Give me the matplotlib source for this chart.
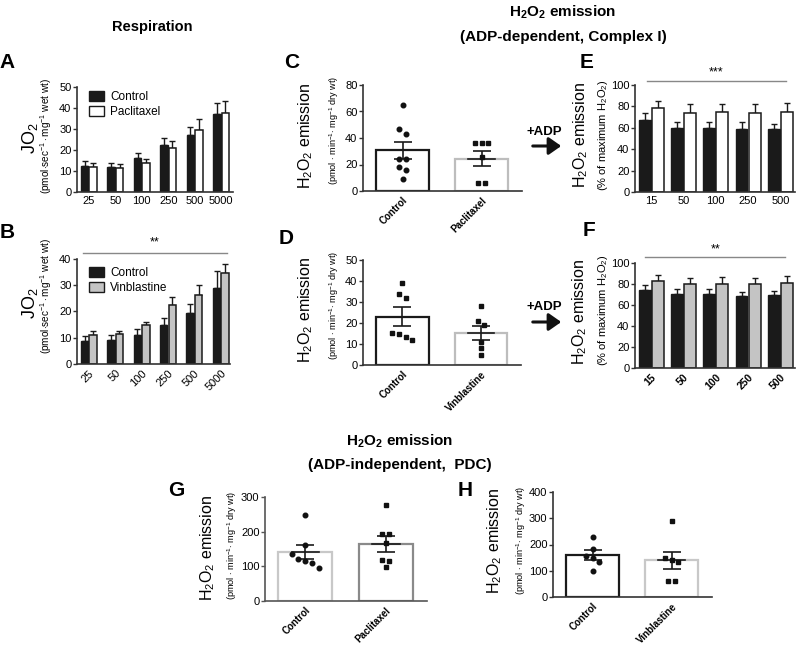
import numpy as np
import matplotlib
matplotlib.use("Agg")
import matplotlib.pyplot as plt
from matplotlib.patches import Patch

plt.rcParams['font.family'] = ['Liberation Sans', 'DejaVu Sans']
plt.rcParams['mathtext.fontset'] = 'custom'
plt.rcParams['mathtext.rm'] = 'Liberation Sans'
plt.rcParams['mathtext.it'] = 'Liberation Sans:italic'
plt.rcParams['mathtext.bf'] = 'Liberation Sans:bold'
HEAD = ['Liberation Sans Narrow', 'Liberation Sans', 'DejaVu Sans']

# ---- data ----
resp_conc = ['25', '50', '100', '250', '500', '5000']
a_ctrl = [12.5, 12.1, 16.3, 22.6, 27.1, 37.1]
a_ctrl_sem = [2.4, 1.5, 2.4, 3.0, 4.0, 5.5]
a_pac = [12.1, 11.5, 13.7, 20.8, 29.5, 37.4]
a_pac_sem = [1.6, 1.7, 2.2, 3.5, 5.5, 5.8]

b_ctrl = [8.8, 9.1, 11.0, 15.0, 19.4, 29.0]
b_ctrl_sem = [1.9, 1.8, 2.2, 2.5, 3.6, 6.3]
b_vin = [11.2, 11.4, 14.9, 22.6, 26.4, 34.5]
b_vin_sem = [1.2, 1.0, 1.0, 2.9, 3.6, 3.6]

adp_conc = ['15', '50', '100', '250', '500']
e_ctrl = [67.2, 60.0, 60.0, 58.8, 58.8]
e_ctrl_sem = [6.2, 5.0, 5.6, 6.2, 5.2]
e_pac = [78.8, 74.0, 74.7, 74.0, 74.7]
e_pac_sem = [6.5, 8.5, 7.8, 8.5, 8.4]

f_ctrl = [74.6, 70.8, 70.8, 68.6, 69.5]
f_ctrl_sem = [4.8, 4.8, 4.8, 3.8, 4.2]
f_vin = [82.5, 79.7, 80.0, 79.7, 81.0]
f_vin_sem = [6.4, 6.0, 6.3, 5.7, 6.3]

c_groups = ['Control', 'Paclitaxel']
c_ctrl_pts = [65, 47, 43, 24, 24, 18, 16, 9]
c_pac_pts = [36, 36, 36, 26, 6, 6]
c_sem = [6.5, 5.7]

d_groups = ['Control', 'Vinblastine']
d_ctrl_pts = [39, 34, 32, 15.4, 15, 13.5, 12]
d_vin_pts = [28, 21, 19, 11, 8, 5]
d_sem = [4.4, 3.4]

g_groups = ['Control', 'Paclitaxel']
g_ctrl_pts = [249, 161, 135, 120, 116, 110, 95]
g_pac_pts = [276, 193, 193, 166, 118, 115, 97]
g_sem = [20, 23]

h_groups = ['Control', 'Vinblastine']
h_ctrl_pts = [229, 184, 155, 150, 135, 100]
h_vin_pts = [289, 149, 142, 133, 61, 61]
h_sem = [19, 34]

W, H = 796, 649
fig = plt.figure(figsize=(W / 100, H / 100), dpi=100)


def box(x0, y0, x1, y1):
    return [x0 / W, 1 - y1 / H, (x1 - x0) / W, (y1 - y0) / H]


def ftext(x, y, s, **kw):
    fig.text(x / W, 1 - y / H, s, **kw)


def style(ax, ymax, step, color='#333333'):
    for sp in ['top', 'right']:
        ax.spines[sp].set_visible(False)
    for sp in ['left', 'bottom']:
        ax.spines[sp].set_color(color)
        ax.spines[sp].set_linewidth(1.2)
    ax.set_ylim(0, ymax)
    ax.set_yticks(np.arange(0, ymax + 0.1, step))
    ax.tick_params(axis='y', length=3, width=1, color=color, labelsize=8, pad=1)
    ax.tick_params(axis='x', length=0, labelsize=8, pad=3)


def grouped(ax, ctrl, ctrl_sem, trt, trt_sem, trt_color, w):
    x = np.arange(len(ctrl))
    off = w / 2 + 0.02
    ax.bar(x - off, ctrl, w, color='#1a1a1a', edgecolor='#1a1a1a', lw=1, zorder=2)
    ax.bar(x + off, trt, w, color=trt_color, edgecolor='#1a1a1a', lw=1.1, zorder=2)
    ax.errorbar(x - off, ctrl, yerr=[np.zeros(len(ctrl)), ctrl_sem], fmt='none',
                ecolor='#1a1a1a', elinewidth=1, capsize=2, capthick=1, zorder=1)
    ax.errorbar(x + off, trt, yerr=[np.zeros(len(trt)), trt_sem], fmt='none',
                ecolor='#1a1a1a', elinewidth=1, capsize=2, capthick=1, zorder=1)
    return x


def swarm(vals, px_per_unit, d_px=5.5, step=0.085):
    # cluster close values and spread them side by side
    order = np.argsort(vals)[::-1]
    v = np.asarray(vals, float)[order]
    offs = np.zeros(len(v))
    groups, cur = [], [0]
    for i in range(1, len(v)):
        if (v[cur[-1]] - v[i]) * px_per_unit < d_px:
            cur.append(i)
        else:
            groups.append(cur)
            cur = [i]
    groups.append(cur)
    for g in groups:
        k = len(g)
        for j, idx in enumerate(g):
            offs[idx] = (j - (k - 1) / 2) * step
    out = np.zeros(len(v))
    out[order] = offs
    return out


def dotbar(ax, pts_list, sems, edges, markers, ymax, hpx, labels):
    ppu = hpx / ymax
    for i, pts in enumerate(pts_list):
        m = np.mean(pts)
        ax.bar(i, m, 0.67, color='white', edgecolor=edges[i], lw=1.6, zorder=1)
        ax.errorbar(i, m, yerr=sems[i], fmt='none', ecolor='#1a1a1a',
                    elinewidth=1.2, capsize=6.5, capthick=1.2, zorder=3)
        ax.plot([i - 0.17, i + 0.17], [m, m], color='#1a1a1a', lw=1.2, zorder=3)
        xo = swarm(pts, ppu)
        ax.plot(i + xo, pts, ls='none', marker=markers[i],
                ms=3.3 if markers[i] == 'o' else 3.0,
                color='#111111', zorder=4)
    ax.set_xlim(-0.5, 1.51)
    ax.set_xticks([0, 1])
    ax.set_xticklabels(labels, rotation=45, ha='right', rotation_mode='anchor',
                       fontsize=7, fontweight='bold')


# ---- A ----
axA = fig.add_axes(box(77, 87, 233, 192))
x = grouped(axA, a_ctrl, a_ctrl_sem, a_pac, a_pac_sem, 'white', 0.28)
style(axA, 50, 10)
axA.set_xlim(-0.45, 5.45)
axA.set_xticks(x)
axA.set_xticklabels(resp_conc)
axA.legend(handles=[Patch(fc='#1a1a1a', ec='#1a1a1a', label='Control'),
                    Patch(fc='white', ec='#1a1a1a', label='Paclitaxel')],
           loc='upper left', frameon=False, fontsize=8.5, handlelength=1.3,
           handleheight=0.9, handletextpad=0.5, labelspacing=0.25,
           borderaxespad=0.1, bbox_to_anchor=(0.04, 1.02))

# ---- B ----
axB = fig.add_axes(box(77, 259, 230, 364))
x = grouped(axB, b_ctrl, b_ctrl_sem, b_vin, b_vin_sem, '#c4c4c4', 0.28)
style(axB, 40, 10)
axB.set_xlim(-0.45, 5.35)
axB.set_xticks(x)
axB.set_xticklabels(resp_conc, rotation=45, ha='right', rotation_mode='anchor')
axB.legend(handles=[Patch(fc='#1a1a1a', ec='#1a1a1a', label='Control'),
                    Patch(fc='#c4c4c4', ec='#1a1a1a', label='Vinblastine')],
           loc='upper left', frameon=False, fontsize=8.5, handlelength=1.3,
           handleheight=0.9, handletextpad=0.5, labelspacing=0.25,
           borderaxespad=0.1, bbox_to_anchor=(0.04, 0.98))
axB.plot([-0.23, 5.23], [42.3, 42.3], color='#888888', lw=1, clip_on=False)
axB.text(2.5, 44.0, '**', ha='center', va='bottom', fontsize=9)

# ---- C ----
axC = fig.add_axes(box(363, 85, 522, 191))
style(axC, 80, 20)
dotbar(axC, [c_ctrl_pts, c_pac_pts], c_sem, ['#1a1a1a', '#bdbdbd'],
       ['o', 's'], 80, 106, c_groups)

# ---- D ----
axD = fig.add_axes(box(363, 260, 521, 365))
style(axD, 50, 10)
dotbar(axD, [d_ctrl_pts, d_vin_pts], d_sem, ['#1a1a1a', '#bdbdbd'],
       ['s', 's'], 50, 105, d_groups)

# ---- E ----
axE = fig.add_axes(box(635, 85, 795, 192))
x = grouped(axE, e_ctrl, e_ctrl_sem, e_pac, e_pac_sem, 'white', 0.37)
style(axE, 100, 20)
axE.set_xlim(-0.5, 4.45)
axE.set_xticks(x)
axE.set_xticklabels(adp_conc)
axE.plot([-0.12, 4.18], [103.7, 103.7], color='#888888', lw=1, clip_on=False)
axE.text(2.0, 106, '***', ha='center', va='bottom', fontsize=9)

# ---- F ----
axF = fig.add_axes(box(635, 263, 795, 368))
x = grouped(axF, f_ctrl, f_ctrl_sem, f_vin, f_vin_sem, '#c4c4c4', 0.37)
style(axF, 100, 20)
axF.set_xlim(-0.5, 4.45)
axF.set_xticks(x)
axF.set_xticklabels(adp_conc, rotation=45, ha='right', rotation_mode='anchor',
                    fontweight='bold', fontsize=7.5)
axF.plot([-0.18, 4.15], [105.7, 105.7], color='#888888', lw=1, clip_on=False)
axF.text(2.0, 107, '**', ha='center', va='bottom', fontsize=9)

# ---- G ----
axG = fig.add_axes(box(265, 497, 427, 601))
style(axG, 300, 100, color='#555555')
dotbar(axG, [g_ctrl_pts, g_pac_pts], g_sem, ['#c8c8c8', '#8a8a8a'],
       ['o', 's'], 300, 104, g_groups)

# ---- H ----
axH = fig.add_axes(box(553, 492, 712, 597))
style(axH, 400, 100)
dotbar(axH, [h_ctrl_pts, h_vin_pts], h_sem, ['#1a1a1a', '#c8c8c8'],
       ['o', 's'], 400, 105, h_groups)

# ---- y labels ----
jo2 = r'JO$_2$'
resp_units = r'(pmol$\cdot$sec$^{-1}\cdot$mg$^{-1}$ wet wt)'
h2o2 = r'H$_2$O$_2$ emission'
dry_units = r'(pmol $\cdot$ min$^{-1}$$\cdot$ mg$^{-1}$ dry wt)'
pct_units = r'(% of maximum H$_2$O$_2$)'
for xb, xs, yc, yu, big, small, bs, ss in [
        (30, 46, 138, 136, jo2, resp_units, 13, 7.2),
        (30, 46, 303, 296, jo2, resp_units, 13, 7.2),
        (306, 334, 136, 130, h2o2, dry_units, 11.5, 6.6),
        (306, 334, 310, 305, h2o2, dry_units, 11.5, 6.6),
        (581, 603, 135, 135, h2o2, pct_units, 11.5, 8),
        (580, 603, 312, 310, h2o2, pct_units, 11.5, 8),
        (208, 232, 548, 545, h2o2, dry_units, 11.5, 6.6),
        (495, 521, 541, 540, h2o2, dry_units, 11.5, 6.6)]:
    ftext(xb, yc, big, rotation=90, ha='center', va='center', fontsize=bs)
    ftext(xs, yu, small, rotation=90, ha='center', va='center', fontsize=ss)

# ---- headings and panel letters ----
ftext(152, 27, 'Respiration', ha='center', va='center', fontsize=10.5,
      fontweight='bold', family=HEAD)
ftext(563, 12, r'H$_\mathbf{2}$O$_\mathbf{2}$ emission', ha='center', va='center',
      fontsize=11, fontweight='bold', family=HEAD)
ftext(563, 37, '(ADP-dependent, Complex I)', ha='center', va='center',
      fontsize=11, fontweight='bold', family=HEAD)
ftext(400, 441, r'H$_\mathbf{2}$O$_\mathbf{2}$ emission', ha='center', va='center',
      fontsize=11, fontweight='bold', family=HEAD)
ftext(400, 465, '(ADP-independent,  PDC)', ha='center', va='center',
      fontsize=11, fontweight='bold', family=HEAD)

for lab, lx, ly in [('A', 7, 63), ('B', 7, 233), ('C', 292, 63), ('D', 286, 238),
                    ('E', 587, 63), ('F', 589, 230), ('G', 176, 491),
                    ('H', 465, 490)]:
    ftext(lx, ly, lab, ha='center', va='center', fontsize=15, fontweight='bold',
          family=HEAD)

# ---- +ADP arrows ----
for ty, ay in [(132, 146), (307, 322)]:
    ftext(544, ty, '+ADP', ha='center', va='center', fontsize=9.5,
          fontweight='bold')
    fig.add_artist(matplotlib.patches.FancyArrowPatch(
        (530 / W, 1 - ay / H), (564 / W, 1 - ay / H), transform=fig.transFigure,
        arrowstyle='-|>,head_length=5,head_width=3.5', mutation_scale=1.5,
        lw=2.2, color='#111111'))

fig.savefig('out.png', dpi=100)
